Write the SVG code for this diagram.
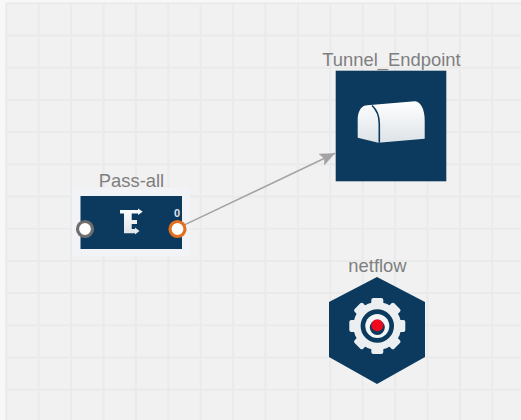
<svg xmlns="http://www.w3.org/2000/svg" width="521" height="420" viewBox="0 0 521 420">
<style>
.lbl{font-family:"Liberation Sans",Arial,sans-serif;font-size:18.400px;fill:#7f7f7f;text-anchor:middle}
.grid{stroke:#eaeaea;stroke-width:2;fill:none}
.node{fill:#0b3a5e}
.icon{fill:url(#ig)}
.port{fill:#fff;stroke-width:3.2}
</style>
<defs>
<linearGradient id="ig" x1="0" y1="0" x2="0" y2="1"><stop offset="0" stop-color="#ffffff"/><stop offset="1" stop-color="#dde3e8"/></linearGradient>
<marker id="arr" markerUnits="userSpaceOnUse" markerWidth="16" markerHeight="14" refX="15" refY="6.5" orient="auto"><path d="M0,0L15,6.5L0,13L3,6.500Z" fill="#a3a3a3"/></marker>
<rect id="tooth" x="-6" y="-28" width="12" height="8" rx="2" fill="#eceff2"/>
</defs>
<rect width="521" height="420" fill="#f8f8f8"/>
<rect x="6" y="3" width="515" height="417" fill="#f1f1f1"/>
<g id="grid" class="grid">
<path d="M6.300 3V420M38.700 3V420M71.100 3V420M103.500 3V420M135.900 3V420M168.300 3V420M200.700 3V420M233.100 3V420M265.500 3V420M297.900 3V420M330.300 3V420M362.700 3V420M395.100 3V420M427.500 3V420M459.900 3V420M492.300 3V420"/>
<path d="M6 3.300H521M6 35.500H521M6 67.700H521M6 100H521M6 132.100H521M6 164.300H521M6 196.500H521M6 228.700H521M6 260.900H521M6 293.100H521M6 325.300H521M6 357.500H521M6 389.700H521"/>
</g>
<g id="pass-all">
<rect x="72" y="188" width="118" height="68" fill="#f2f3f7"/>
<rect x="80.500" y="196" width="101.500" height="53" class="node"/>
<path class="icon" d="M120,210H138V208.500L142.700,211.700L138,215V213.400H131.700V220H137V224H131.700V229H135V227.500L139.500,231L135,234.500V233.300H124V213.400H120Z"/>
<text x="177" y="217" style="font-family:'Liberation Sans',Arial,sans-serif;font-size:11px;font-weight:bold;fill:#dfe5ea;text-anchor:middle">0</text>
<text x="131.500" y="187" class="lbl">Pass-all</text>
</g>
<g id="tunnel-endpoint">
<rect x="335.700" y="70.700" width="110.600" height="110.600" class="node"/>
<path class="icon" d="M357.700,137.700V118C358.500,110 362,105.300 367.300,105.300L415,101.300C421,102 424.700,110 424.700,120V138.700L378.300,142.700Z"/>
<path d="M372,105.500C377,110 379.300,116 379.300,124V142.700" fill="none" stroke="#0b3a5e" stroke-width="1.600"/>
<text x="391.500" y="66" class="lbl">Tunnel_Endpoint</text>
</g>
<g id="netflow">
<path class="node" d="M377,277L425,302V357L377,384L329,357V302Z"/>
<circle cx="377.300" cy="326" r="24" fill="#eceff2"/>
<g transform="translate(377.300 326)">
<use href="#tooth" transform="rotate(0)"/><use href="#tooth" transform="rotate(45)"/><use href="#tooth" transform="rotate(90)"/><use href="#tooth" transform="rotate(135)"/><use href="#tooth" transform="rotate(180)"/><use href="#tooth" transform="rotate(225)"/><use href="#tooth" transform="rotate(270)"/><use href="#tooth" transform="rotate(315)"/>
</g>
<circle cx="377.300" cy="326" r="16.700" class="node"/>
<circle cx="377.300" cy="326" r="12" fill="#f3f5f7"/>
<circle cx="377.300" cy="327.500" r="7.500" class="node"/>
<circle cx="377.300" cy="325.300" r="6" fill="#ee0a1c"/>
<text x="377.500" y="272" class="lbl">netflow</text>
</g>
<g id="connectors">
<path d="M185,224.600L335,153.300" fill="none" stroke="#a3a3a3" stroke-width="1.500" marker-end="url(#arr)"/>
</g>
<g id="ports">
<circle cx="85" cy="229" r="7.500" class="port" stroke="#6e6e6e"/>
<circle cx="177.500" cy="229" r="7.500" class="port" stroke="#e2701f"/>
</g>
</svg>
